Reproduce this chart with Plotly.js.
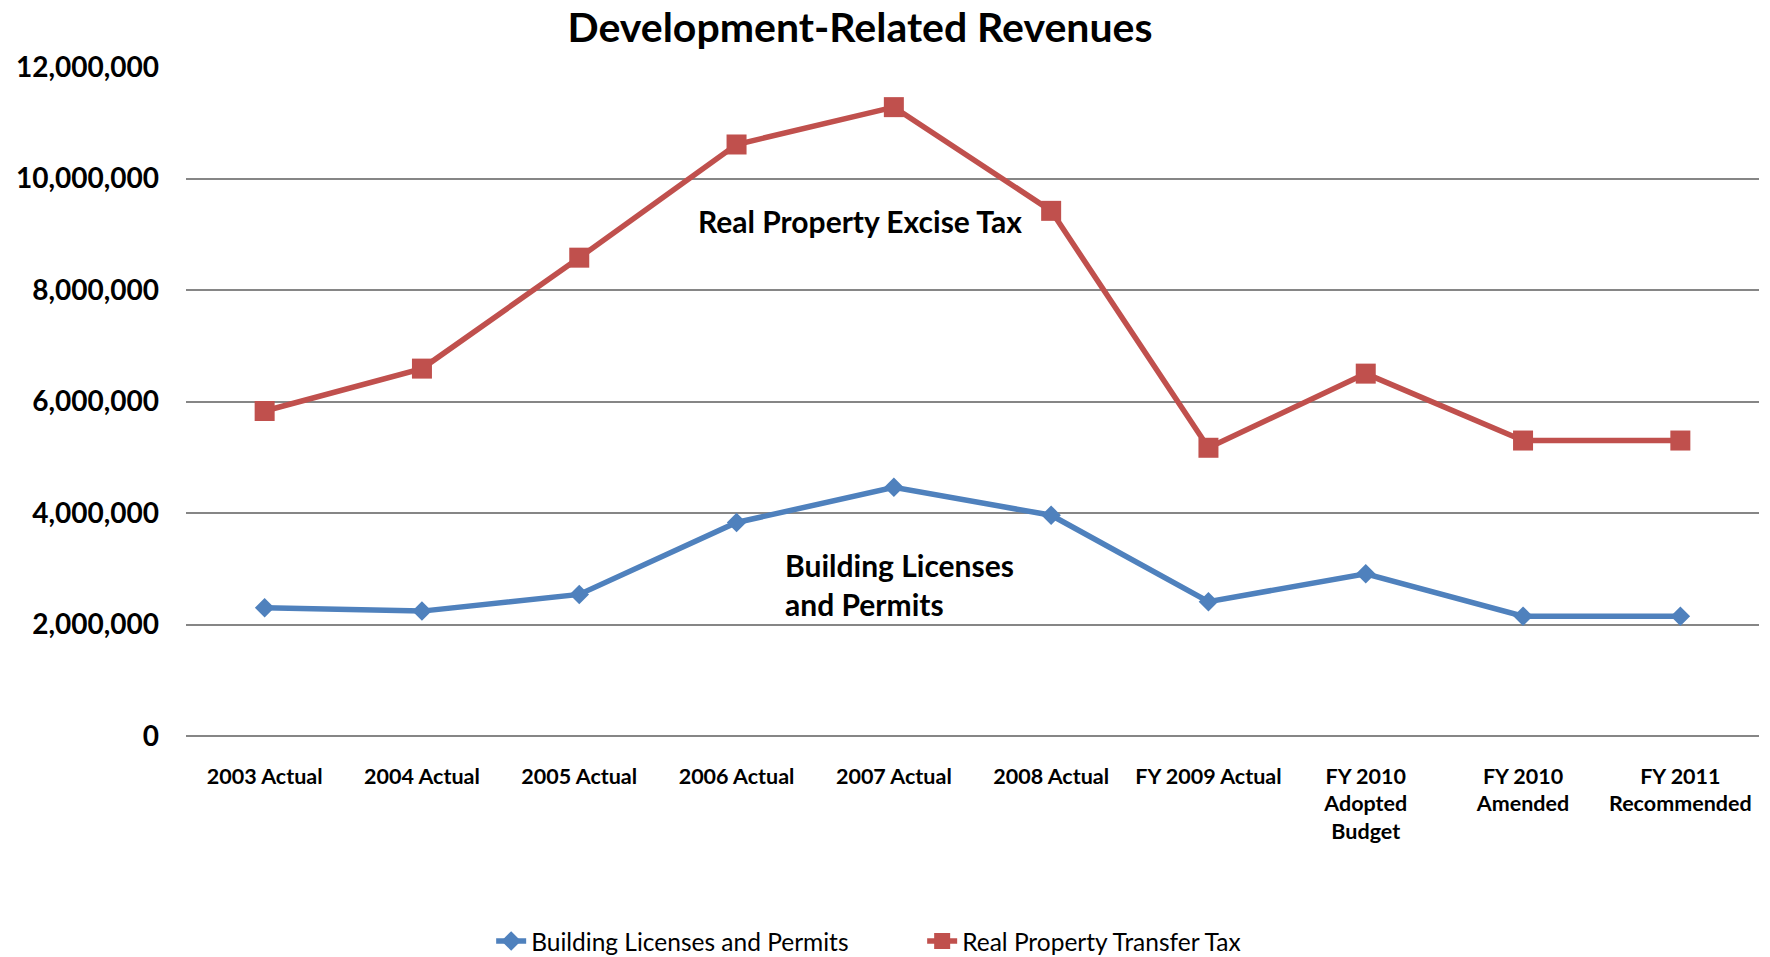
<!DOCTYPE html>
<html>
<head>
<meta charset="utf-8">
<script src="https://cdn.plot.ly/plotly-3.0.1.min.js"></script>
<style>html,body{margin:0;padding:0;background:#fff;}#chart{width:1770px;height:957px;}</style>
</head>
<body>
<div id="chart"></div>
<script>
var categories = ["2003 Actual", "2004 Actual", "2005 Actual", "2006 Actual", "2007 Actual", "2008 Actual", "FY 2009 Actual", "FY 2010<br>Adopted<br>Budget", "FY 2010<br>Amended", "FY 2011<br>Recommended"];
var buildingLicenses = [2300000, 2240000, 2540000, 3830000, 4460000, 3960000, 2410000, 2910000, 2150000, 2150000];
var transferTax = [5830000, 6590000, 8580000, 10610000, 11280000, 9420000, 5170000, 6500000, 5300000, 5300000];
var seriesNames = ["Building Licenses and Permits", "Real Property Transfer Tax"];
var yTicks = [0, 2000000, 4000000, 6000000, 8000000, 10000000, 12000000];

var FONT = "Lato, 'Open Sans', sans-serif";
var blue = "#4F81BD", red = "#C0504D";

var traces = [
  {x: categories, y: buildingLicenses, name: seriesNames[0], type: "scatter", mode: "lines+markers",
   line: {color: blue, width: 5.5}, marker: {symbol: "diamond", size: 15, color: blue}},
  {x: categories, y: transferTax, name: seriesNames[1], type: "scatter", mode: "lines+markers",
   line: {color: red, width: 5.5}, marker: {symbol: "square", size: 20, color: red}}
];

var layout = {
  width: 1770, height: 957,
  paper_bgcolor: "#fff", plot_bgcolor: "#fff",
  margin: {l: 186, r: 11, t: 67, b: 221, autoexpand: false},
  font: {family: FONT, color: "#000"},
  title: {text: "Development-Related Revenues", font: {family: FONT, size: 41, weight: "bold", color: "#000"},
          x: 0.4285, xanchor: "center", xref: "paper", y: 0.971, yanchor: "middle", yref: "container"},
  xaxis: {type: "category", range: [-0.5, 9.5], showgrid: false, zeroline: false, showline: false,
          ticks: "", ticklabelstandoff: 25,
          tickfont: {family: FONT, size: 21.5, weight: "bold", color: "#000"}},
  yaxis: {range: [0, 12000000], tickvals: yTicks, tickformat: ",d", showgrid: true,
          gridcolor: "#868686", gridwidth: 2, zeroline: true, zerolinecolor: "#868686", zerolinewidth: 2,
          showline: false, ticks: "", ticklabelstandoff: 26,
          tickfont: {family: FONT, size: 28, weight: "bold", color: "#000"}},
  showlegend: true,
  legend: {orientation: "h", x: 0.194, xanchor: "left", xref: "paper", y: 0.0167, yanchor: "middle", yref: "container",
           font: {family: FONT, size: 24.5, color: "#000"}, tracegroupgap: 0, entrywidth: 386, entrywidthmode: "pixels"},
  annotations: [
    {text: "Real Property Excise Tax", xref: "paper", yref: "paper", x: 0.4285, y: 0.7695,
     xanchor: "center", yanchor: "middle", showarrow: false,
     font: {family: FONT, size: 30, weight: "bold", color: "#000"}},
    {text: "Building Licenses<br>and Permits", xref: "paper", yref: "paper", x: 0.3795, y: 0.227,
     xanchor: "left", yanchor: "middle", align: "left", showarrow: false,
     font: {family: FONT, size: 30, weight: "bold", color: "#000"}}
  ]
};

Plotly.newPlot("chart", traces, layout, {displayModeBar: false, staticPlot: true});
</script>
</body>
</html>
